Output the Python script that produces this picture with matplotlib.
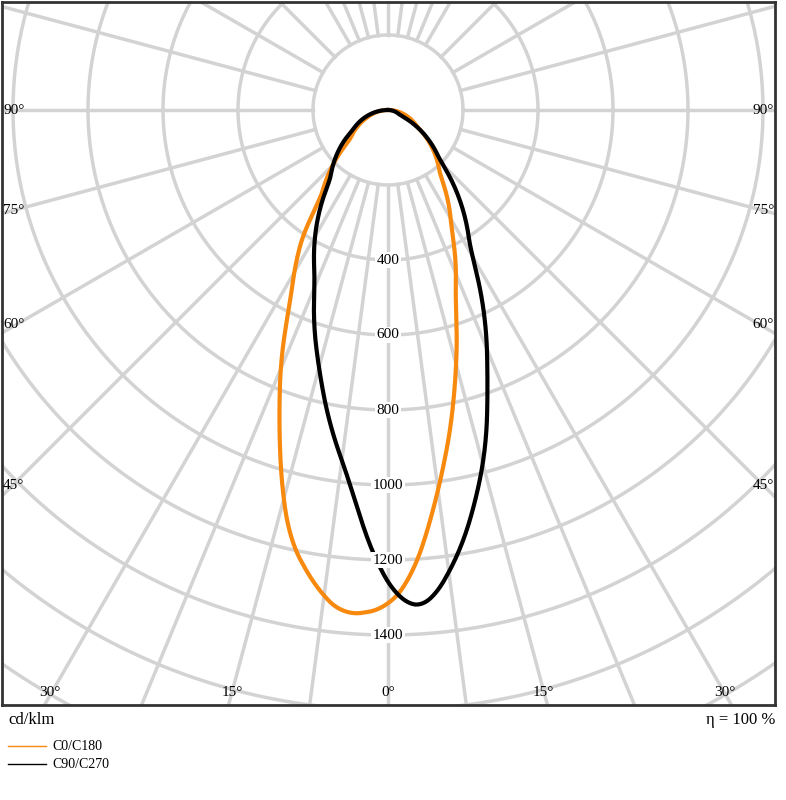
import numpy as np
import matplotlib.pyplot as plt

plt.rcParams['font.family'] = ['Liberation Serif', 'DejaVu Serif']

# angle from nadir (deg, negative = left side), intensity cd/klm
c0_ang = [-90, -70, -52, -37, -34.7, -27, -19.2, -17.6, -12.8, -8, -4.9, -0.3, 2.7, 8, 13.9, 19.4, 28, 38.7, 60, 90]
c0_val = [0, 60, 129, 300, 389, 570, 876, 952, 1176, 1300, 1352, 1330, 1254, 996, 742, 537, 360, 222, 90, 0]
c90_ang = [-90, -60, -39.6, -23.2, -14.7, -5.9, -1, 1.4, 3.1, 4.9, 9.3, 15.9, 20.1, 30.4, 46, 67, 90]
c90_val = [0, 110, 242, 493, 717, 992, 1227, 1307, 1330, 1320, 1189, 943, 767, 433, 192, 35, 0]
ring_labels = [400, 600, 800, 1000, 1200, 1400]
side_angles = [90, 75, 60, 45]
bottom_angles = [30, 15, 0, 15, 30]


def to_xy(ang, val):
    a = np.radians(np.asarray(ang, float))
    v = np.asarray(val, float)
    return v * np.sin(a), -v * np.cos(a)


def smooth(ang, val, n=600):
    # dense linear interp then a short moving average
    t = np.linspace(ang[0], ang[-1], n)
    v = np.interp(t, ang, val)
    k = 6
    vp = np.pad(v, k, mode='edge')
    v = np.convolve(vp, np.ones(2 * k + 1) / (2 * k + 1), mode='valid')
    return t, v


fig = plt.figure(figsize=(7.86, 8), dpi=100)
ax = fig.add_axes([2 / 786, 95 / 800, 773 / 786, 703 / 800])
s = 200 / 75.0
ax.set_xlim(-386 * s, 387 * s)
ax.set_ylim(-595 * s, 108 * s)
ax.set_xticks([])
ax.set_yticks([])
for sp in ax.spines.values():
    sp.set_linewidth(2)
    sp.set_color('#333333')

grid = '#d3d3d3'
th = np.linspace(0, 2 * np.pi, 400)
for r in range(200, 4000, 200):
    ax.plot(r * np.cos(th), r * np.sin(th), color=grid, lw=2.5, zorder=1)
for a in np.arange(0, 360, 15):
    x, y = to_xy([a, a], [200, 5000])
    ax.plot(x, y, color=grid, lw=2.5, zorder=1)
for a in [-22.5, -7.5, 7.5, 22.5, 157.5, 172.5, 187.5, 202.5]:
    x, y = to_xy([a, a], [200, 5000])
    ax.plot(x, y, color=grid, lw=2.5, zorder=1)

t, v = smooth(c0_ang, c0_val)
x, y = to_xy(t, v)
ax.plot(x, y, color='#f7890f', lw=3, zorder=3)
t, v = smooth(c90_ang, c90_val)
x, y = to_xy(t, v)
ax.plot(x, y, color='black', lw=3, zorder=4)

for r in ring_labels:
    ax.text(0, -r, str(r), ha='center', va='center', fontsize=11, zorder=5,
            bbox=dict(facecolor='white', edgecolor='none', pad=1))

xl, xr = ax.get_xlim()
for a, py in zip(side_angles, [110, 210, 325, 485]):
    yy = (110 - py) * s
    ax.text(xl + 3, yy, f'{a}°', ha='left', va='center', fontsize=11, zorder=5)
    ax.text(xr - 3, yy, f'{a}°', ha='right', va='center', fontsize=11, zorder=5)
for a, px in zip(bottom_angles, [50, 232, 388, 543, 725]):
    ax.text((px - 388) * s, (110 - 693) * s, f'{a}°', ha='center', va='center', fontsize=11, zorder=5)

fig.text(8 / 786, 1 - 720 / 800, 'cd/klm', ha='left', va='center', fontsize=12)
fig.text(775 / 786, 1 - 720 / 800, 'η = 100 %', ha='right', va='center', fontsize=12)
for i, (lab, col) in enumerate([('C0/C180', '#f7890f'), ('C90/C270', 'black')]):
    yy = 1 - (746 + 18 * i) / 800
    fig.add_artist(plt.Line2D([8 / 786, 46 / 786], [yy, yy], color=col, lw=1))
    fig.text(52 / 786, yy, lab, ha='left', va='center', fontsize=10)

fig.savefig('out.png', dpi=100)
